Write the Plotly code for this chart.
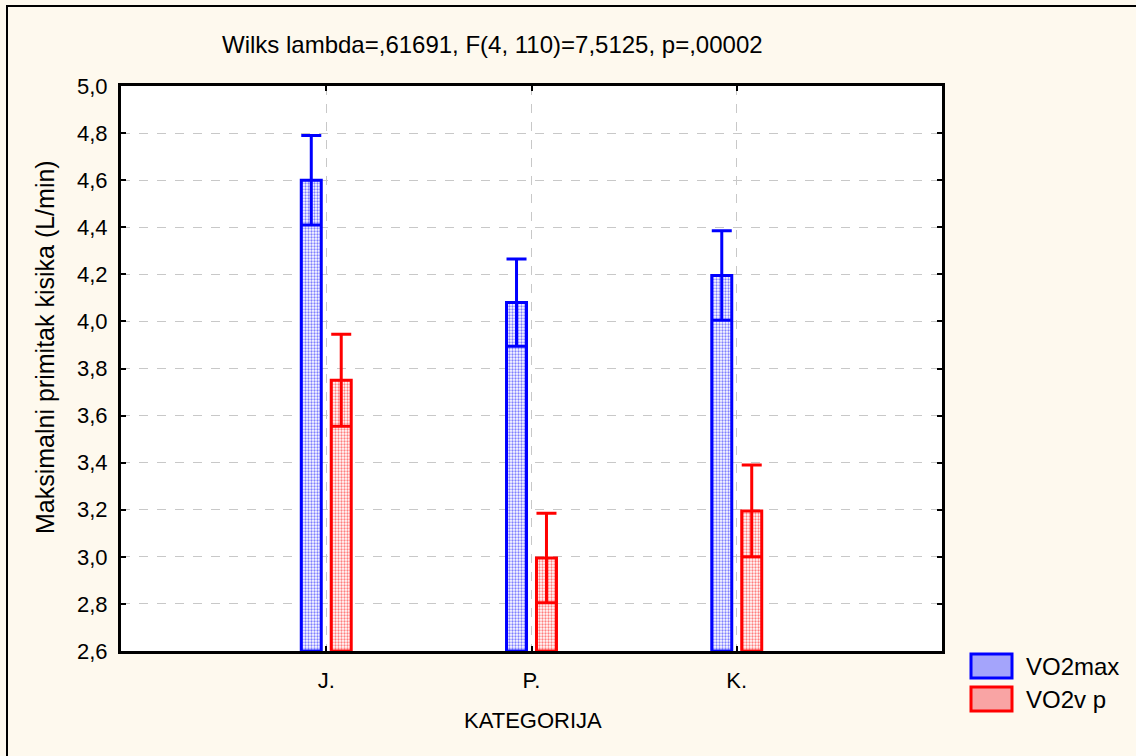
import plotly.graph_objects as go

categories = ["J.", "P.", "K."]
vo2max = [4.60, 4.08, 4.195]
vo2max_ci = [0.19, 0.185, 0.19]
vo2vp = [3.75, 2.995, 3.195]
vo2vp_ci = [0.195, 0.19, 0.195]
y_ticks = [2.6, 2.8, 3.0, 3.2, 3.4, 3.6, 3.8, 4.0, 4.2, 4.4, 4.6, 4.8, 5.0]
series_names = ["VO2max", "VO2v p"]
title_text = "Wilks lambda=,61691, F(4, 110)=7,5125, p=,00002"
y_title = "Maksimalni primitak kisika (L/min)"
x_title = "KATEGORIJA"

BLUE = "#0000FF"
RED = "#FF0000"
BG = "#FEF9EE"
FONT = "Liberation Sans, Arial, sans-serif"
BASE = 2.6

fig = go.Figure()
for vals, ci, col, name in [(vo2max, vo2max_ci, BLUE, series_names[0]),
                            (vo2vp, vo2vp_ci, RED, series_names[1])]:
    fig.add_trace(go.Bar(
        x=categories,
        y=[v - BASE for v in vals],
        base=BASE,
        name=name,
        showlegend=False,
        marker=dict(
            color="white",
            line=dict(color=col, width=3),
            pattern=dict(shape=".", fgcolor=col, bgcolor="white", size=3, solidity=0.45),
        ),
        error_y=dict(type="data", array=ci, symmetric=True, color=col, thickness=3, width=10),
    ))

# body margin is removed in the page (post_script), so figure pixels = page pixels
PL, PR, PT, PB = 121, 942, 86, 651  # plot area in pixels
W, H = 1136, 756
L, T = PL, PT
pw, ph = PR - PL, PB - PT
R = W - L - pw
B = H - T - ph

def px(x):
    return (x - PL) / pw

def py(y):
    return (PB - y) / ph

shapes = [
    dict(type="rect", xref="paper", yref="paper", x0=px(7), x1=px(1160), y0=py(6), y1=py(780),
         line=dict(color="black", width=2), fillcolor="rgba(0,0,0,0)", layer="below"),
]
annotations = [
    dict(text=title_text, xref="paper", yref="paper", x=px(492), y=py(45), showarrow=False,
         xanchor="center", yanchor="middle", font=dict(size=24, color="black", family=FONT)),
    dict(text=y_title, xref="paper", yref="paper", x=px(45), y=py(347), showarrow=False,
         textangle=-90, xanchor="center", yanchor="middle", font=dict(size=25, color="black", family=FONT)),
    dict(text=x_title, xref="paper", yref="paper", x=px(533), y=py(720), showarrow=False,
         xanchor="center", yanchor="middle", font=dict(size=22, color="black", family=FONT)),
]
for i, (name, col, fill) in enumerate([(series_names[0], BLUE, "#a4a4fb"), (series_names[1], RED, "#f9a4a4")]):
    y0 = 654 + i * 33
    shapes.append(dict(type="rect", xref="paper", yref="paper", x0=px(971), x1=px(1012),
                       y0=py(y0), y1=py(y0 + 24), line=dict(color=col, width=3), fillcolor=fill))
    annotations.append(dict(text=name, xref="paper", yref="paper", x=px(1024), y=py(y0 + 12),
                            showarrow=False, xanchor="left", yanchor="middle",
                            font=dict(size=24, color="black", family=FONT)))

fig.update_layout(
    width=W, height=H,
    margin=dict(l=L, r=R, t=T, b=B),
    paper_bgcolor=BG,
    plot_bgcolor="white",
    barmode="group",
    bargap=0.708,
    bargroupgap=0.333,
    separators=",.",
    font=dict(family=FONT, size=22, color="black"),
    shapes=shapes,
    annotations=annotations,
    showlegend=False,
)
fig.update_xaxes(
    type="category", range=[-1.0, 3.0],
    showline=True, linecolor="black", linewidth=3, mirror="ticks",
    ticks="inside", ticklen=5, tickwidth=2, tickcolor="black",
    showgrid=True, gridcolor="#C8C8C8", griddash="dash", gridwidth=1,
    tickfont=dict(size=22, family=FONT), ticklabelstandoff=8,
)
fig.update_yaxes(
    range=[2.6, 5.0], tickvals=y_ticks, tickformat=".1f",
    showline=True, linecolor="black", linewidth=3, mirror="ticks",
    ticks="inside", ticklen=5, tickwidth=2, tickcolor="black",
    showgrid=True, gridcolor="#C8C8C8", griddash="dash", gridwidth=1,
    zeroline=False,
    tickfont=dict(size=22, family=FONT), ticklabelstandoff=6,
)

fig.write_html(
    "out.html",
    config={"displayModeBar": False},
    post_script=(
        "document.body.style.margin='0';"
        "document.body.style.overflow='hidden';"
        f"document.body.style.background='{BG}';"
        f"document.documentElement.style.background='{BG}';"
    ),
)
